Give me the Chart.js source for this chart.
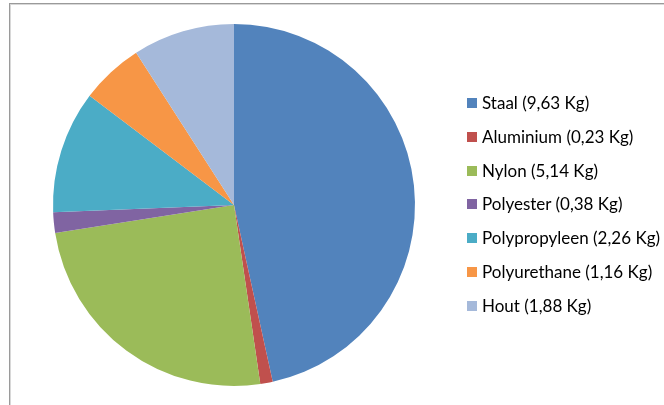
<!DOCTYPE html>
<html><head><meta charset="utf-8">
<script src="https://cdn.jsdelivr.net/npm/chart.js@4/dist/chart.umd.min.js"></script>
<style>
html,body{margin:0;padding:0;background:#fff;}
#wrap{position:relative;width:664px;height:405px;overflow:hidden;}
#frame{position:absolute;left:9px;top:3px;width:700px;height:450px;border-top:1px solid #9a9a9a;border-left:1px solid #9a9a9a;box-shadow:inset 1px 1px 0 #d8d8d8;}
#c{position:absolute;left:0;top:0;}
#legend{position:absolute;left:467px;top:0;font-family:Lato,"Open Sans",sans-serif;font-size:17px;color:#000;}
.item{position:absolute;left:0;white-space:nowrap;height:20px;line-height:20px;}
.box{position:absolute;left:0;top:5px;width:10px;height:10px;}
.txt{position:absolute;left:15px;top:0;}
</style></head>
<body><div id="wrap"><div id="frame"></div><canvas id="c" width="664" height="405"></canvas><div id="legend"></div></div>
<script>
const categories = ["Staal", "Aluminium", "Nylon", "Polyester", "Polypropyleen", "Polyurethane", "Hout"];
const weights = [9.63, 0.23, 5.14, 0.38, 2.26, 1.16, 1.88];
const colors = ["#5283BC", "#C0504D", "#9BBB59", "#8064A2", "#4BACC6", "#F79646", "#A5B9DA"];
const labels = categories.map((c, i) => c + " (" + weights[i].toFixed(2).replace(".", ",") + " Kg)");

new Chart(document.getElementById("c"), {
  type: "pie",
  data: { labels: labels, datasets: [{ data: weights, backgroundColor: colors, borderWidth: 0 }] },
  options: {
    responsive: false, animation: false,
    layout: { padding: { left: 53, right: 249, top: 24, bottom: 19 } },
    plugins: { legend: { display: false }, tooltip: { enabled: false } }
  }
});

const leg = document.getElementById("legend");
labels.forEach((l, i) => {
  const d = document.createElement("div");
  d.className = "item";
  d.style.top = (93 + i * 33.8) + "px";
  d.innerHTML = '<span class="box" style="background:' + colors[i] + '"></span><span class="txt">' + l + '</span>';
  leg.appendChild(d);
});
</script></body></html>
